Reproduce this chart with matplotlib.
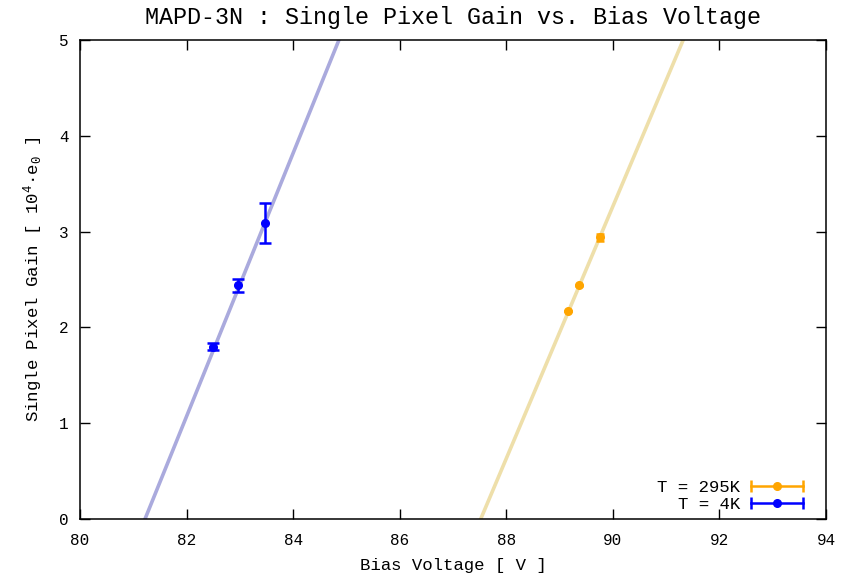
import numpy as np
import matplotlib
matplotlib.use("Agg")
import matplotlib.pyplot as plt
from matplotlib.lines import Line2D
from matplotlib.legend_handler import HandlerLine2D, HandlerTuple

plt.rcParams['font.family'] = ['Liberation Mono', 'DejaVu Sans Mono']

# T = 4K measurements
v_4k = [82.5, 82.96, 83.47]
g_4k = [1.80, 2.44, 3.09]
e_4k = [0.04, 0.07, 0.21]
fit_4k = (1.374, 81.22)   # slope, breakdown voltage

# T = 295K measurements
v_295k = [89.16, 89.36, 89.76]
g_295k = [2.17, 2.44, 2.94]
e_295k = [0.003, 0.003, 0.04]
fit_295k = (1.316, 87.52)

fig = plt.figure(figsize=(8.52, 5.74), dpi=100)
ax = fig.add_axes([0.0939, 0.0958, 0.8756, 0.8345])

xs = np.linspace(80, 94, 200)
ax.plot(xs, fit_4k[0] * (xs - fit_4k[1]), color='#aaaadd', lw=2.6, zorder=1)
ax.plot(xs, fit_295k[0] * (xs - fit_295k[1]), color='#eedfaa', lw=2.6, zorder=1)

ax.errorbar(v_295k, g_295k, yerr=e_295k, fmt='o', color='#ffa500', ms=5.5,
            capsize=3.2, elinewidth=1.8, capthick=1.8, zorder=3)
ax.errorbar(v_4k, g_4k, yerr=e_4k, fmt='o', color='#0000ff', ms=5.5,
            capsize=4, elinewidth=1.8, capthick=1.8, zorder=3)

ax.set_xlim(80, 94)
ax.set_ylim(0, 5)
ax.set_xticks(np.arange(80, 95, 2))
ax.set_yticks(np.arange(0, 6, 1))
ax.tick_params(direction='in', length=7, width=1, top=True, right=True,
               labelsize=11.5)
ax.tick_params(axis='x', pad=10)
ax.tick_params(axis='y', pad=8)
for s in ax.spines.values():
    s.set_linewidth(1.1)

ax.set_title('MAPD-3N : Single Pixel Gain vs. Bias Voltage', fontsize=16.8,
             y=1.022, pad=4)
ax.set_xlabel('Bias Voltage [ V ]', fontsize=12.5, labelpad=7)
ax.set_ylabel(r'Single Pixel Gain [ $\mathregular{10^{4}}$·$\mathregular{e_{0}}$ ]',
              fontsize=12.5, labelpad=10)

handles = []
hmap = {}
for c in ['#ffa500', '#0000ff']:
    ln = Line2D([], [], color=c, lw=1.8, marker='o', ms=5.5)
    caps = Line2D([], [], color=c, lw=0, marker='|', ms=8, mew=1.8)
    hmap[caps] = HandlerLine2D(numpoints=2, marker_pad=0.0)
    hmap[ln] = HandlerLine2D(numpoints=1)
    handles.append((ln, caps))
hmap[tuple] = HandlerTuple(ndivide=1)
leg = ax.legend(handles, ['T = 295K', 'T = 4K'], handler_map=hmap,
                loc='lower right', bbox_to_anchor=(0.983, -0.007),
                frameon=False, markerfirst=False,
                fontsize=12.5, handlelength=3.0, labelspacing=0.12,
                borderaxespad=0.2, handletextpad=0.6)
for t in leg.get_texts():
    t.set_ha('right')

fig.savefig('out.png', dpi=100)
